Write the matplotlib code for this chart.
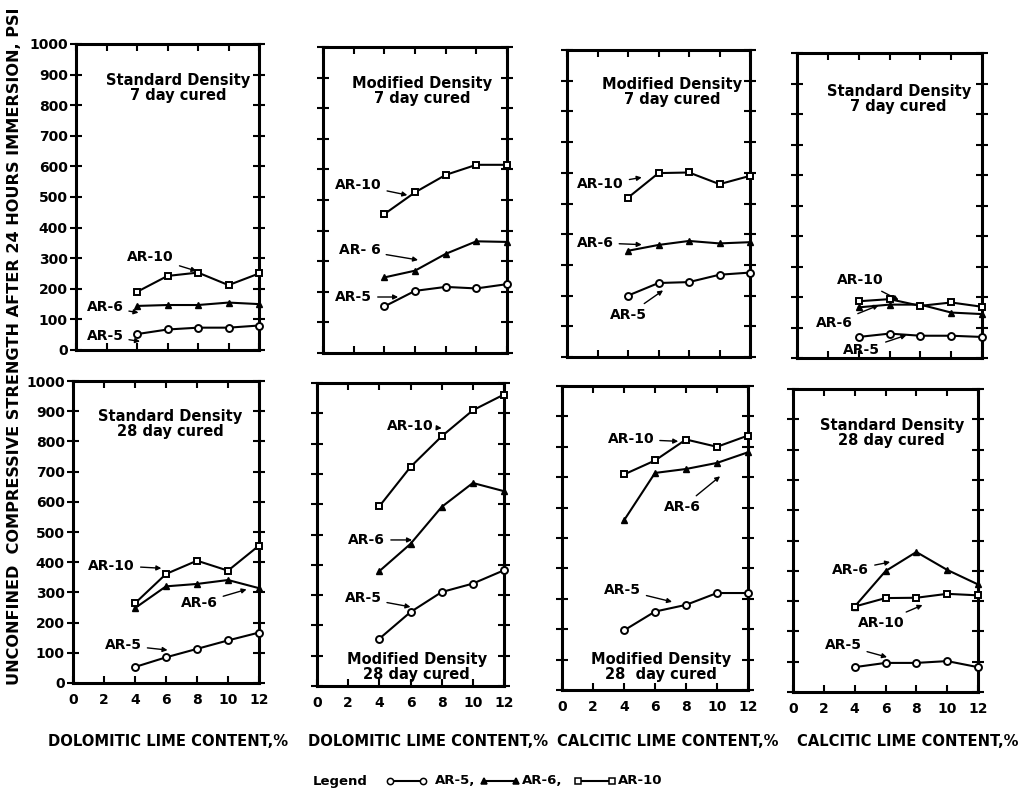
import matplotlib
matplotlib.use("Agg")
import matplotlib.pyplot as plt
from matplotlib.lines import Line2D

# ---------------- data ----------------
lime = [4, 6, 8, 10, 12]
x_ticks = [0, 2, 4, 6, 8, 10, 12]
y_ticks = [0, 100, 200, 300, 400, 500, 600, 700, 800, 900, 1000]

# top row (7 day cured)
std7_dol_ar5 = [52, 67, 73, 73, 80]
std7_dol_ar6 = [144, 147, 147, 155, 150]
std7_dol_ar10 = [190, 242, 253, 212, 250]

mod7_dol_ar5 = [152, 203, 216, 211, 225]
mod7_dol_ar6 = [247, 269, 324, 365, 363]
mod7_dol_ar10 = [454, 525, 582, 615, 615]

mod7_cal_ar5 = [200, 241, 244, 268, 275]
mod7_cal_ar6 = [346, 365, 378, 370, 374]
mod7_cal_ar10 = [519, 599, 601, 563, 590]

std7_cal_ar5 = [69, 80, 73, 73, 69]
std7_cal_ar6 = [166, 175, 175, 149, 144]
std7_cal_ar10 = [186, 193, 171, 182, 168]

# bottom row (28 day cured)
std28_dol_ar5 = [53, 85, 113, 141, 167]
std28_dol_ar6 = [248, 320, 328, 341, 314]
std28_dol_ar10 = [264, 361, 405, 372, 455]

mod28_dol_ar5 = [156, 244, 310, 338, 382]
mod28_dol_ar6 = [379, 469, 591, 670, 643]
mod28_dol_ar10 = [593, 723, 824, 910, 962]

mod28_cal_ar5 = [196, 258, 280, 319, 319]
mod28_cal_ar6 = [558, 714, 727, 747, 782]
mod28_cal_ar10 = [709, 755, 824, 800, 837]

std28_cal_ar5 = [82, 96, 96, 102, 82]
std28_cal_ar6 = [282, 399, 462, 403, 355]
std28_cal_ar10 = [282, 310, 311, 324, 319]

titles = ["Standard Density\n7 day cured", "Modified Density\n7 day cured",
          "Modified Density\n7 day cured", "Standard Density\n7 day cured",
          "Standard Density\n28 day cured", "Modified Density\n28 day cured",
          "Modified Density\n28  day cured", "Standard Density\n28 day cured"]
x_labels = ["DOLOMITIC LIME CONTENT,%", "DOLOMITIC LIME CONTENT,%",
            "CALCITIC LIME CONTENT,%", "CALCITIC LIME CONTENT,%"]
y_label = "UNCONFINED  COMPRESSIVE STRENGTH AFTER 24 HOURS IMMERSION, PSI"
series_names = ["AR-5", "AR-6", "AR-10"]

panel_data = [
    (std7_dol_ar5, std7_dol_ar6, std7_dol_ar10),
    (mod7_dol_ar5, mod7_dol_ar6, mod7_dol_ar10),
    (mod7_cal_ar5, mod7_cal_ar6, mod7_cal_ar10),
    (std7_cal_ar5, std7_cal_ar6, std7_cal_ar10),
    (std28_dol_ar5, std28_dol_ar6, std28_dol_ar10),
    (mod28_dol_ar5, mod28_dol_ar6, mod28_dol_ar10),
    (mod28_cal_ar5, mod28_cal_ar6, mod28_cal_ar10),
    (std28_cal_ar5, std28_cal_ar6, std28_cal_ar10),
]

# ---------------- layout / style ----------------
W, H = 1027, 801
# pixel rectangles (left, top, right, bottom)
rects = [
    (76, 44, 259, 350), (323, 47, 507, 353), (567, 50, 750, 357), (797, 53, 982, 358),
    (73, 381, 259, 683), (317, 383, 504, 686), (562, 386, 748, 690), (793, 389, 978, 692),
]
title_pos = [(6.7, 855), (6.46, 856), (6.9, 864), (6.6, 850),
             (6.26, 858), (6.4, 62), (6.4, 76), (6.4, 856)]
# (label, text position, arrow target)
notes = [
    [("AR-10", (4.9, 304), (7.9, 258)), ("AR-6", (1.9, 140), (4.1, 122)), ("AR-5", (1.9, 46), (4.2, 28))],
    [("AR-10", (2.3, 549), (5.5, 516)), ("AR- 6", (2.4, 336), (6.2, 304)), ("AR-5", (2.0, 183), (4.9, 183))],
    [("AR-10", (2.2, 562), (4.9, 585)), ("AR-6", (1.85, 372), (4.9, 366)), ("AR-5", (4.0, 137), (6.3, 217))],
    [("AR-10", (4.1, 255), (6.6, 190)), ("AR-6", (2.4, 114), (5.3, 173)), ("AR-5", (4.2, 26), (7.1, 75))],
    [("AR-10", (2.5, 389), (5.7, 380)), ("AR-6", (8.15, 264), (11.2, 310)), ("AR-5", (3.25, 125), (6.1, 109))],
    [("AR-10", (6.0, 858), (8.0, 851)), ("AR-6", (3.2, 482), (6.1, 482)), ("AR-5", (2.95, 290), (6.0, 261))],
    [("AR-10", (4.45, 825), (7.5, 818)), ("AR-6", (7.75, 601), (10.2, 703)), ("AR-5", (3.9, 330), (7.1, 290))],
    [("AR-6", (3.75, 403), (6.3, 429)), ("AR-10", (5.7, 228), (8.4, 287)), ("AR-5", (3.25, 155), (6.1, 115))],
]
marker_styles = [
    dict(marker="o", ms=5, mfc="white", mec="black", mew=1.4),
    dict(marker="^", ms=4.5, mfc="black", mec="black", mew=1.0),
    dict(marker="s", ms=4.5, mfc="white", mec="black", mew=1.4),
]

plt.rcParams["font.family"] = ["DejaVu Sans"]
plt.rcParams["font.weight"] = "bold"

fig = plt.figure(figsize=(W / 100, H / 100), dpi=100)

for i, (rect, data) in enumerate(zip(rects, panel_data)):
    l, t, r, b = rect
    ax = fig.add_axes([l / W, 1 - b / H, (r - l) / W, (b - t) / H])
    ax.set_xlim(0, 12)
    ax.set_ylim(0, 1000)
    for s in ax.spines.values():
        s.set_linewidth(2.2)
    ax.set_xticks(x_ticks)
    ax.set_yticks(y_ticks)
    ax.tick_params(axis="x", direction="in", length=5, width=1.5, top=True, bottom=True)
    ax.tick_params(axis="y", direction="inout", length=8, width=1.5, left=True, right=True)
    if i >= 4:
        ax.set_xticklabels([str(v) for v in x_ticks], fontsize=10, fontweight="bold")
        ax.tick_params(axis="x", pad=7)
    else:
        ax.set_xticklabels([])
    if i % 4 == 0:
        ax.set_yticklabels([str(v) for v in y_ticks], fontsize=10, fontweight="bold")
        ax.tick_params(axis="y", pad=2)
    else:
        ax.set_yticklabels([])

    for vals, st in zip(data, marker_styles):
        ax.plot(lime, vals, color="black", lw=1.5, clip_on=False, zorder=3, **st)

    tx, ty = title_pos[i]
    ax.text(tx, ty, titles[i], ha="center", va="center", fontsize=10.5,
            fontweight="bold", linespacing=1.0)
    for lab, txy, axy in notes[i]:
        ax.annotate(lab, xy=axy, xytext=txy, ha="center", va="center",
                    fontsize=10, fontweight="bold",
                    arrowprops=dict(arrowstyle="-|>", lw=1.0, color="black",
                                    mutation_scale=7, shrinkA=2, shrinkB=0))

# x-axis labels under each column
x_label_centers = [168, 428, 668, 908]
for cx, lab in zip(x_label_centers, x_labels):
    fig.text(cx / W, 1 - 742 / H, lab, ha="center", va="center",
             fontsize=10.6, fontweight="bold")

# y label
fig.text(15 / W, 1 - 346 / H, y_label, rotation=90, ha="center", va="center",
         fontsize=11.6, fontweight="bold")

# legend line
ly = 1 - 781 / H
fig.text(313 / W, ly, "Legend", ha="left", va="center", fontsize=9.5, fontweight="bold")
seg = [(390, 423, 435, "AR-5,"), (484, 516, 522, "AR-6,"), (578, 612, 618, "AR-10")]
for (x0, x1, xt, lab), st in zip(seg, marker_styles):
    st2 = dict(st)
    st2["ms"] = st2["ms"] - 0.5
    st2["mew"] = 1.1
    fig.add_artist(Line2D([x0 / W, x1 / W], [ly, ly], transform=fig.transFigure,
                          color="black", lw=1.5, **st2))
    fig.text(xt / W, ly, lab, ha="left", va="center", fontsize=9.5, fontweight="bold")

fig.savefig("out.png", dpi=100)
